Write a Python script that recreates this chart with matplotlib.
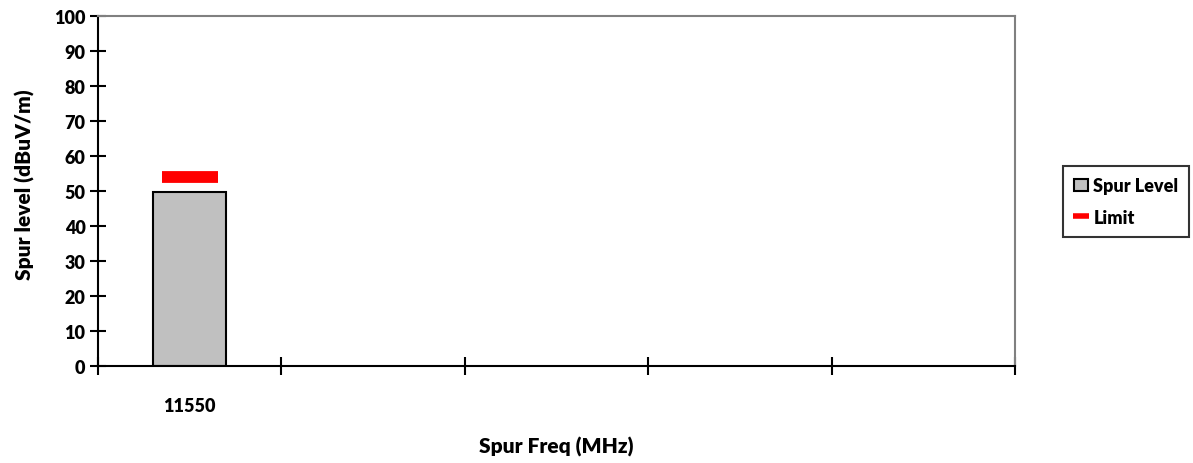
import matplotlib.pyplot as plt
import numpy as np

# Spurious emission measurements
freqs = ['11550', '', '', '', '']
spur_level = [49.6, np.nan, np.nan, np.nan, np.nan]
limit = [54, np.nan, np.nan, np.nan, np.nan]

plt.rcParams['font.family'] = ['Lato', 'DejaVu Sans']
plt.rcParams['font.weight'] = 'bold'

fig = plt.figure(figsize=(11.93, 4.64), dpi=100)
ax = fig.add_axes([0.0821, 0.209, 0.7687, 0.7543])

x = np.arange(len(freqs))
bars = ax.bar(x, spur_level, width=0.4, color='#c0c0c0', edgecolor='black',
              linewidth=1.5, label='Spur Level', zorder=2)
line, = ax.plot(x, limit, linestyle='none', marker='_', markersize=40,
                markeredgewidth=8.5, color='red', label='Limit', zorder=3)

ax.set_xlim(-0.5, len(freqs) - 0.5)
ax.set_ylim(0, 100)
ax.set_yticks(np.arange(0, 101, 10))

# category labels in the middle, tick marks on the boundaries
ax.set_xticks(x)
ax.set_xticklabels(freqs)
ax.tick_params(axis='x', which='major', length=0, pad=22, labelsize=13)
ax.set_xticks(np.arange(-0.5, len(freqs)), minor=True)
ax.tick_params(axis='x', which='minor', length=13, width=1.5, direction='inout')
ax.tick_params(axis='y', length=12, width=1.5, direction='inout', labelsize=13, pad=3)
for lbl in ax.get_xticklabels() + ax.get_yticklabels():
    lbl.set_fontweight('heavy')

for side in ['left', 'bottom']:
    ax.spines[side].set_color('black')
    ax.spines[side].set_linewidth(1.5)
for side in ['top', 'right']:
    ax.spines[side].set_color('#808080')
    ax.spines[side].set_linewidth(1.5)

ax.set_xlabel('Spur Freq (MHz)', fontsize=15, fontweight='heavy', va='center')
ax.xaxis.set_label_coords(0.5, -0.229)
ax.set_ylabel('Spur level (dBuV/m)', fontsize=15, fontweight='heavy',
              va='center', ha='center')
ax.yaxis.set_label_coords(-0.0796, 0.52)

leg = ax.legend([bars, line], ['Spur Level', 'Limit'], loc='center left',
                bbox_to_anchor=(1.052, 0.47),
                prop={'size': 13, 'weight': 'heavy'},
                frameon=True, fancybox=False, edgecolor='black',
                handlelength=0.8, handletextpad=0.3, borderpad=0.6,
                labelspacing=0.8, borderaxespad=0)
leg.get_frame().set_linewidth(1.5)
for h in leg.legend_handles:
    if hasattr(h, 'set_markersize'):
        h.set_markersize(12)
        h.set_markeredgewidth(4)

fig.savefig('out.png', dpi=100)
